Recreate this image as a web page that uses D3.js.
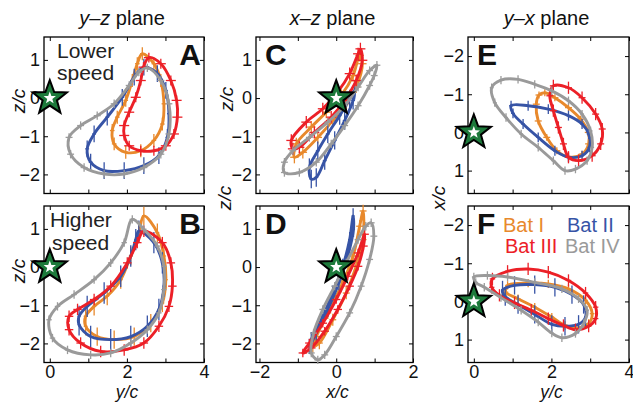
<!DOCTYPE html>
<html>
<head>
<meta charset="utf-8">
<script src="https://cdn.jsdelivr.net/npm/d3@7"></script>
<style>
  body { margin: 0; background: #fff; }
  text { font-family: "Liberation Sans", Arial, sans-serif; }
</style>
</head>
<body>
<svg id="chart" width="633" height="402"></svg>
<script>
'use strict';

// Bats, legend order
var bats = ['Bat I', 'Bat II', 'Bat III', 'Bat IV'];
var batColors = ['#e8892c', '#3754a6', '#ec2027', '#9a9a9a'];

// Tick values
var horizTicksY = [0, 1, 2, 3, 4];
var horizLabelsY = [0, 2, 4];
var horizTicksX = [-2, -1, 0, 1, 2];
var horizLabelsX = [-2, 0, 2];
var vertTicks = [-2, -1, 0, 1];

// A: y-z plane, lower speed  [y, z]
var yzLowI = [[2.40,1.16],[2.70,0.90],[2.88,0.46],[2.96,-0.15],[2.92,-0.68],[2.70,-1.11],[2.36,-1.38],[1.97,-1.42],[1.67,-1.20],[1.62,-0.85],[1.75,-0.50],[1.97,-0.06],[2.14,0.46],[2.27,0.90]];
var yzLowII = [[2.44,0.81],[2.79,0.64],[3.01,0.20],[3.09,-0.41],[3.05,-1.03],[2.83,-1.51],[2.44,-1.77],[1.93,-1.90],[1.41,-1.90],[1.06,-1.68],[0.97,-1.33],[1.15,-0.94],[1.49,-0.50],[1.88,0.02],[2.19,0.55]];
var yzLowIII = [[2.57,1.06],[2.88,0.90],[3.14,0.46],[3.29,-0.06],[3.31,-0.50],[3.22,-0.94],[3.01,-1.25],[2.70,-1.38],[2.36,-1.38],[2.06,-1.25],[1.93,-0.98],[1.93,-0.72],[2.06,-0.37],[2.23,0.02],[2.36,0.46],[2.43,0.81]];
var yzLowIV = [[2.53,0.79],[2.88,0.46],[3.09,-0.15],[3.09,-0.94],[2.88,-1.47],[2.44,-1.82],[1.93,-1.99],[1.41,-1.99],[0.89,-1.82],[0.54,-1.47],[0.50,-1.03],[0.80,-0.72],[1.23,-0.46],[1.67,-0.15],[2.06,0.33],[2.31,0.68]];

// B: y-z plane, higher speed
var yzHighI = [[2.44,1.34],[2.79,0.90],[2.96,0.29],[3.01,-0.33],[2.92,-0.94],[2.62,-1.47],[2.19,-1.82],[1.67,-1.90],[1.23,-1.82],[0.93,-1.55],[0.93,-1.29],[1.15,-1.03],[1.49,-0.76],[1.84,-0.33],[2.10,0.29],[2.31,0.90]];
var yzHighII = [[2.31,0.94],[2.70,0.64],[2.92,0.11],[2.96,-0.50],[2.83,-1.11],[2.53,-1.55],[2.10,-1.82],[1.58,-1.90],[1.06,-1.82],[0.76,-1.51],[0.76,-1.29],[0.97,-1.03],[1.41,-0.68],[1.84,-0.24],[2.10,0.29],[2.23,0.72]];
var yzHighIII = [[2.44,0.94],[2.92,0.64],[3.14,0.11],[3.18,-0.50],[3.09,-1.03],[2.83,-1.55],[2.44,-1.99],[1.93,-2.17],[1.32,-2.21],[0.80,-1.99],[0.50,-1.64],[0.50,-1.29],[0.72,-1.11],[1.15,-0.85],[1.58,-0.50],[2.01,0.11],[2.27,0.64]];
var yzHighIV = [[2.14,1.25],[2.44,0.99],[2.79,0.55],[2.96,0.02],[2.96,-0.59],[2.83,-1.20],[2.53,-1.64],[2.10,-1.99],[1.58,-2.25],[1.06,-2.30],[0.46,-2.17],[0.07,-1.86],[-0.02,-1.38],[0.20,-1.03],[0.63,-0.72],[1.15,-0.33],[1.58,0.11],[1.93,0.64]];

// C: x-z plane, lower speed  [x, z]
var xzLowI = [[-1.09,-1.55],[-1.04,-1.20],[-0.65,-0.76],[-0.26,-0.37],[0.13,0.07],[0.44,0.59],[0.61,1.12],[0.68,0.90],[0.52,0.29],[0.26,-0.15],[-0.09,-0.59],[-0.48,-1.03],[-0.87,-1.42]];
var xzLowII = [[-0.65,-2.12],[-0.70,-1.82],[-0.48,-1.38],[-0.22,-0.94],[0.09,-0.46],[0.35,-0.02],[0.48,0.20],[0.44,-0.06],[0.22,-0.59],[-0.04,-1.11],[-0.30,-1.64],[-0.52,-2.08]];
var xzLowIII = [[-1.17,-1.11],[-0.78,-0.63],[-0.35,-0.28],[0.04,0.16],[0.35,0.64],[0.57,1.16],[0.63,1.29],[0.68,0.99],[0.52,0.46],[0.22,-0.06],[-0.13,-0.50],[-0.57,-0.90],[-0.96,-1.29],[-1.13,-1.33]];
var xzLowIV = [[1.06,0.86],[0.87,0.72],[0.57,0.29],[0.22,-0.20],[-0.22,-0.63],[-0.70,-1.03],[-1.13,-1.38],[-1.35,-1.68],[-1.35,-1.95],[-0.96,-1.95],[-0.52,-1.68],[-0.13,-1.20],[0.22,-0.72],[0.57,-0.20],[0.87,0.33],[0.99,0.59]];

// D: x-z plane, higher speed
var xzHighI = [[0.70,1.47],[0.61,1.07],[0.44,0.29],[0.13,-0.50],[-0.22,-1.20],[-0.52,-1.82],[-0.61,-2.08],[-0.44,-1.99],[-0.09,-1.38],[0.26,-0.68],[0.52,0.02],[0.70,0.72]];
var xzHighII = [[0.44,1.34],[0.35,0.72],[0.17,0.02],[-0.09,-0.68],[-0.39,-1.38],[-0.65,-1.90],[-0.70,-2.08],[-0.52,-1.73],[-0.22,-1.11],[0.07,-0.41],[0.30,0.29],[0.45,0.99]];
var xzHighIII = [[0.74,0.86],[0.57,0.37],[0.30,-0.24],[0.00,-0.85],[-0.35,-1.47],[-0.70,-1.99],[-0.87,-2.25],[-0.65,-2.12],[-0.30,-1.68],[0.04,-1.11],[0.35,-0.50],[0.57,0.02],[0.71,0.55]];
var xzHighIV = [[0.91,1.16],[0.98,0.81],[0.87,0.20],[0.65,-0.50],[0.35,-1.20],[0.00,-1.82],[-0.30,-2.30],[-0.48,-2.43],[-0.65,-2.25],[-0.59,-1.73],[-0.35,-1.11],[-0.04,-0.50],[0.26,0.11],[0.57,0.72],[0.77,1.07]];

// E: y-x plane, lower speed  [y, x]
var yxLowI = [[1.83,-1.04],[2.09,-0.91],[2.44,-0.65],[2.75,-0.35],[2.95,0.00],[2.96,0.30],[2.79,0.57],[2.44,0.64],[2.14,0.48],[1.88,0.13],[1.66,-0.30],[1.61,-0.74],[1.68,-0.98]];
var yxLowII = [[0.96,-0.70],[1.40,-0.70],[1.92,-0.61],[2.44,-0.44],[2.79,-0.22],[2.96,0.04],[2.98,0.39],[2.79,0.61],[2.44,0.65],[2.09,0.48],[1.66,0.13],[1.27,-0.22],[1.01,-0.50]];
var yxLowIII = [[2.05,-1.22],[2.44,-1.17],[2.79,-0.91],[3.14,-0.48],[3.31,-0.09],[3.27,0.30],[3.05,0.61],[2.70,0.74],[2.44,0.65],[2.31,0.30],[2.18,-0.13],[2.05,-0.57],[1.96,-0.96]];
var yxLowIV = [[0.46,-1.17],[0.70,-1.37],[1.14,-1.39],[1.57,-1.26],[2.01,-1.09],[2.44,-0.83],[2.79,-0.48],[3.01,-0.04],[3.05,0.39],[2.92,0.74],[2.62,0.96],[2.35,1.00],[2.05,0.74],[1.66,0.39],[1.22,0.04],[0.83,-0.39],[0.54,-0.78]];

// F: y-x plane, higher speed
var yxHighI = [[0.87,-0.42],[1.40,-0.48],[1.92,-0.46],[2.44,-0.33],[2.88,-0.03],[3.05,0.32],[2.96,0.58],[2.70,0.69],[2.35,0.63],[2.01,0.41],[1.57,0.15],[1.14,-0.07],[0.83,-0.24]];
var yxHighII = [[0.74,-0.30],[1.05,-0.42],[1.57,-0.44],[2.09,-0.37],[2.53,-0.18],[2.83,0.08],[2.88,0.41],[2.70,0.60],[2.35,0.65],[2.01,0.60],[1.57,0.34],[1.14,0.08],[0.81,-0.13]];
var yxHighIII = [[0.48,-0.59],[0.87,-0.79],[1.40,-0.85],[1.92,-0.77],[2.44,-0.55],[2.88,-0.22],[3.14,0.15],[3.14,0.45],[2.96,0.65],[2.62,0.74],[2.31,0.63],[1.92,0.45],[1.48,0.23],[1.05,0.04],[0.66,-0.16],[0.46,-0.37]];
var yxHighIV = [[0.00,-0.64],[0.35,-0.68],[0.87,-0.64],[1.57,-0.50],[2.27,-0.33],[2.70,-0.07],[2.92,0.23],[2.83,0.58],[2.62,0.84],[2.27,0.95],[2.01,0.83],[1.66,0.54],[1.22,0.23],[0.70,-0.10],[0.27,-0.37],[0.05,-0.50]];

// error bar half-widths per bat: [horizontal, vertical]
var errA = [[0.06,0.17],[0.05,0.22],[0.13,0.13],[0.09,0.11]];
var errB = [[0.05,0.24],[0.04,0.28],[0.11,0.15],[0.07,0.11]];
var errC = [[0.11,0.16],[0.05,0.24],[0.13,0.16],[0.09,0.11]];
var errD = [[0.09,0.16],[0.04,0.20],[0.11,0.11],[0.09,0.11]];
var errE = [[0.09,0.09],[0.05,0.13],[0.09,0.16],[0.05,0.11]];
var errF = [[0.06,0.11],[0.04,0.24],[0.07,0.16],[0.05,0.11]];

// layout
var colX = [44, 256, 468];
var colW = [160, 157, 161];
var rowY = [37, 206];
var rowH = 156.5;
var fontFam = '"Liberation Sans", Arial, sans-serif';

var panels = [
  {id: 'A', col: 0, row: 0, hDom: [-0.15, 4], vFlip: false, hT: horizTicksY, hL: horizLabelsY, loops: [yzLowI, yzLowII, yzLowIII, yzLowIV], err: errA},
  {id: 'B', col: 0, row: 1, hDom: [-0.15, 4], vFlip: false, hT: horizTicksY, hL: horizLabelsY, loops: [yzHighI, yzHighII, yzHighIII, yzHighIV], err: errB},
  {id: 'C', col: 1, row: 0, hDom: [-2.09, 2.0], vFlip: false, hT: horizTicksX, hL: horizLabelsX, loops: [xzLowI, xzLowII, xzLowIII, xzLowIV], err: errC},
  {id: 'D', col: 1, row: 1, hDom: [-2.09, 2.0], vFlip: false, hT: horizTicksX, hL: horizLabelsX, loops: [xzHighI, xzHighII, xzHighIII, xzHighIV], err: errD},
  {id: 'E', col: 2, row: 0, hDom: [-0.15, 4], vFlip: true, hT: horizTicksY, hL: horizLabelsY, loops: [yxLowI, yxLowII, yxLowIII, yxLowIV], err: errE},
  {id: 'F', col: 2, row: 1, hDom: [-0.15, 4], vFlip: true, hT: horizTicksY, hL: horizLabelsY, loops: [yxHighI, yxHighII, yxHighIII, yxHighIV], err: errF}
];

var svg = d3.select('#chart');
var fmt = d3.format('d');

function starPath(cx, cy, R, r) {
  var pts = [];
  for (var k = 0; k < 10; k++) {
    var a = -Math.PI / 2 + k * Math.PI / 5;
    var rr = (k % 2) ? r : R;
    pts.push([cx + rr * Math.cos(a), cy + rr * Math.sin(a)]);
  }
  return 'M' + pts.join('L') + 'Z';
}

panels.forEach(function(p) {
  var x0 = colX[p.col], y0 = rowY[p.row], w = colW[p.col];
  var hs = d3.scaleLinear().domain(p.hDom).range([x0, x0 + w]);
  var vs = d3.scaleLinear().domain([-2.5, 1.6])
             .range(p.vFlip ? [y0, y0 + rowH] : [y0 + rowH, y0]);
  var g = svg.append('g');

  // axes, ticks inward on all four sides
  var hFmt = function(d) { return (p.row === 1 && p.hL.indexOf(d) >= 0) ? fmt(d) : ''; };
  g.append('g').attr('transform', 'translate(0,' + (y0 + rowH) + ')')
   .call(d3.axisBottom(hs).tickValues(p.hT).tickSize(-4).tickPadding(2.5).tickFormat(hFmt));
  g.append('g').attr('transform', 'translate(0,' + y0 + ')')
   .call(d3.axisTop(hs).tickValues(p.hT).tickSize(-4).tickFormat(''));
  g.append('g').attr('transform', 'translate(' + x0 + ',0)')
   .call(d3.axisLeft(vs).tickValues(vertTicks).tickSize(-4).tickPadding(4).tickFormat(fmt));
  g.append('g').attr('transform', 'translate(' + (x0 + w) + ',0)')
   .call(d3.axisRight(vs).tickValues(vertTicks).tickSize(-4).tickFormat(''));
  g.selectAll('.domain').remove();
  g.selectAll('.tick line').attr('stroke', '#000').attr('stroke-width', 1);
  g.selectAll('.tick text').attr('font-size', 18).attr('font-family', fontFam).attr('fill', '#111');

  g.append('rect')
   .attr('x', x0).attr('y', y0).attr('width', w).attr('height', rowH)
   .attr('fill', 'none').attr('stroke', '#000').attr('stroke-width', 1.3);

  // loops with error crosses
  var line = d3.line()
    .x(function(d) { return hs(d[0]); })
    .y(function(d) { return vs(d[1]); })
    .curve(d3.curveCatmullRomClosed.alpha(0.5));

  p.loops.forEach(function(pts, i) {
    var c = batColors[i], e = p.err[i];
    var lg = g.append('g');
    lg.append('path').attr('d', line(pts))
      .attr('fill', 'none').attr('stroke', c).attr('stroke-width', 2.9);
    lg.selectAll('line.eh').data(pts).enter().append('line')
      .attr('x1', function(d) { return hs(d[0] - e[0]); })
      .attr('x2', function(d) { return hs(d[0] + e[0]); })
      .attr('y1', function(d) { return vs(d[1]); })
      .attr('y2', function(d) { return vs(d[1]); })
      .attr('stroke', c).attr('stroke-width', 1.3);
    lg.selectAll('line.ev').data(pts).enter().append('line')
      .attr('x1', function(d) { return hs(d[0]); })
      .attr('x2', function(d) { return hs(d[0]); })
      .attr('y1', function(d) { return vs(d[1] - e[1]); })
      .attr('y2', function(d) { return vs(d[1] + e[1]); })
      .attr('stroke', c).attr('stroke-width', 1.3);
  });

  // star at origin
  var sx = hs(0), sy = vs(0);
  g.append('path').attr('d', starPath(sx, sy, 18, 7.5))
   .attr('fill', '#1d7a3b').attr('stroke', '#000').attr('stroke-width', 2).attr('stroke-linejoin', 'miter');
  g.append('path').attr('d', starPath(sx, sy, 6.5, 2.7)).attr('fill', '#fff');

  // panel letter
  var left = p.col > 0;
  g.append('text')
   .attr('x', left ? x0 + 9 : x0 + w - 3)
   .attr('y', y0 + 28)
   .attr('text-anchor', left ? 'start' : 'end')
   .attr('font-size', 30).attr('font-weight', 'bold').attr('fill', '#111')
   .text(p.id);
});

// column titles
var titles = [['y', '\u2013', 'z'], ['x', '\u2013', 'z'], ['y', '\u2013', 'x']];
titles.forEach(function(t, i) {
  var tx = svg.append('text')
    .attr('x', colX[i] + colW[i] / 2 - 2).attr('y', 25)
    .attr('text-anchor', 'middle').attr('font-size', 20).attr('fill', '#111');
  tx.append('tspan').attr('font-style', 'italic').text(t[0] + t[1] + t[2]);
  tx.append('tspan').text(' plane');
});

// bottom axis labels
var xLabels = ['y/c', 'x/c', 'y/c'];
xLabels.forEach(function(s, i) {
  svg.append('text')
    .attr('x', colX[i] + colW[i] / 2 + 3).attr('y', 398)
    .attr('text-anchor', 'middle').attr('font-size', 17.5).attr('font-style', 'italic')
    .attr('fill', '#111').text(s);
});

// rotated axis labels
var yLabels = [['z/c', 25, 101], ['z/c', 25, 271], ['z/c', 233, 99], ['z/c', 231, 198], ['x/c', 445, 198]];
yLabels.forEach(function(l) {
  svg.append('text')
    .attr('transform', 'translate(' + l[1] + ',' + l[2] + ') rotate(-90)')
    .attr('text-anchor', 'middle').attr('font-size', 19).attr('font-style', 'italic')
    .attr('fill', '#111').text(l[0]);
});

// speed notes
var notes = [[57, 58, 'Lower'], [57, 80, 'speed'], [50, 227, 'Higher'], [52, 250, 'speed']];
notes.forEach(function(n) {
  svg.append('text').attr('x', n[0]).attr('y', n[1])
    .attr('font-size', 21).attr('fill', '#222').text(n[2]);
});

// legend in panel F
var legendPos = [[503, 232], [567, 232], [505, 253], [565, 253]];
bats.forEach(function(b, i) {
  svg.append('text').attr('x', legendPos[i][0]).attr('y', legendPos[i][1])
    .attr('font-size', 20).attr('fill', batColors[i]).text(b);
});
</script>
</body>
</html>
